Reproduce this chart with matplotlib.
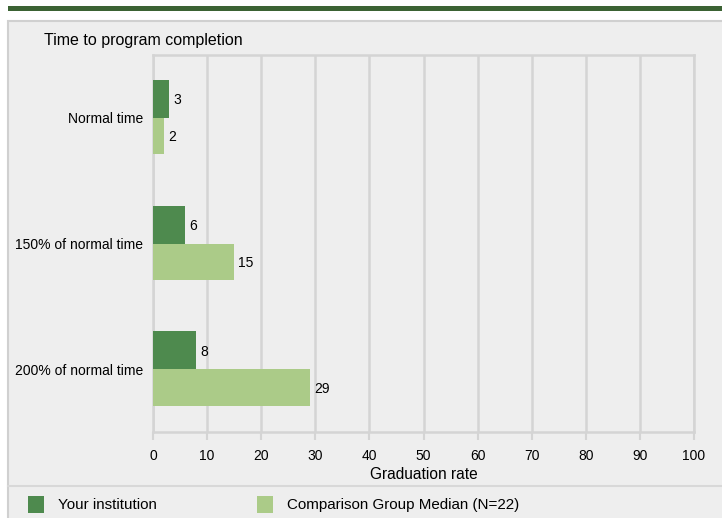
import numpy as np
import matplotlib.pyplot as plt
from matplotlib.patches import Rectangle
from matplotlib.lines import Line2D

plt.rcParams['font.family'] = ['Liberation Sans', 'DejaVu Sans']

# Datos
categorias = ["Normal time", "150% of normal time", "200% of normal time"]
institucion = [3, 6, 8]
comparacion = [2, 15, 29]
series = ["Your institution", "Comparison Group Median (N=22)"]
ticks_x = list(range(0, 101, 10))

verde_osc = "#4e8a4e"
verde_cla = "#abcb88"
gris = "#d4d4d4"
fondo = "#eeeeee"

W, H = 722, 518
fig = plt.figure(figsize=(W / 100, H / 100), dpi=100)
fig.patch.set_facecolor("white")

# barra verde superior
fig.add_artist(Rectangle((8 / W, 1 - 11 / H), 1, 5 / H, transform=fig.transFigure,
                         facecolor="#3b6233", edgecolor="none", zorder=-10))
# panel gris
fig.add_artist(Rectangle((8 / W, -0.1), 1, 1 - 21 / H + 0.1, transform=fig.transFigure,
                         facecolor=fondo, edgecolor="#d0d0d0", lw=1.5, zorder=-10))
# separador de la leyenda
fig.add_artist(Line2D([8 / W, 1], [1 - 486 / H] * 2, transform=fig.transFigure,
                      color="#d8d8d8", lw=1.5, zorder=-9))

ax = fig.add_axes([153 / W, 1 - 432 / H, (694 - 153) / W, (432 - 55) / H])
ax.set_facecolor(fondo)

y = np.arange(len(categorias))
alto = 0.3
b1 = ax.barh(y - alto / 2, institucion, height=alto, color=verde_osc, zorder=3)
b2 = ax.barh(y + alto / 2 - 0.005, comparacion, height=alto - 0.01, color=verde_cla, zorder=3)

for barras, vals in ((b1, institucion), (b2, comparacion)):
    for b, v in zip(barras, vals):
        ax.annotate(str(v), (v, b.get_y() + b.get_height() / 2), xytext=(3, -1),
                    textcoords="offset points", va="center", ha="left", fontsize=10)

ax.set_xlim(0, 100)
ax.set_ylim(2.5, -0.5)
ax.set_xticks(ticks_x)
ax.set_yticks(y)
ax.set_yticklabels(categorias, fontsize=10)
ax.tick_params(axis="y", length=0, pad=7)
ax.tick_params(axis="x", length=6, width=1.5, color=gris, labelsize=10, pad=6)
ax.grid(axis="x", color=gris, lw=1.8, zorder=0)
for s in ax.spines.values():
    s.set_color(gris)
    s.set_linewidth(1.8)
ax.set_xlabel("Graduation rate", fontsize=11.2, labelpad=3)

fig.text(44 / W, 1 - 41 / H, "Time to program completion", fontsize=11.5, va="center")

# leyenda
for xs, xt, c, txt in ((28, 58, verde_osc, series[0]), (257, 287, verde_cla, series[1])):
    fig.add_artist(Rectangle((xs / W, 1 - 513 / H), 16 / W, 17 / H, transform=fig.transFigure,
                             facecolor=c, edgecolor="none"))
    fig.text(xt / W, 1 - 505 / H, txt, fontsize=10.9, va="center")

fig.savefig("out.png", dpi=100)
